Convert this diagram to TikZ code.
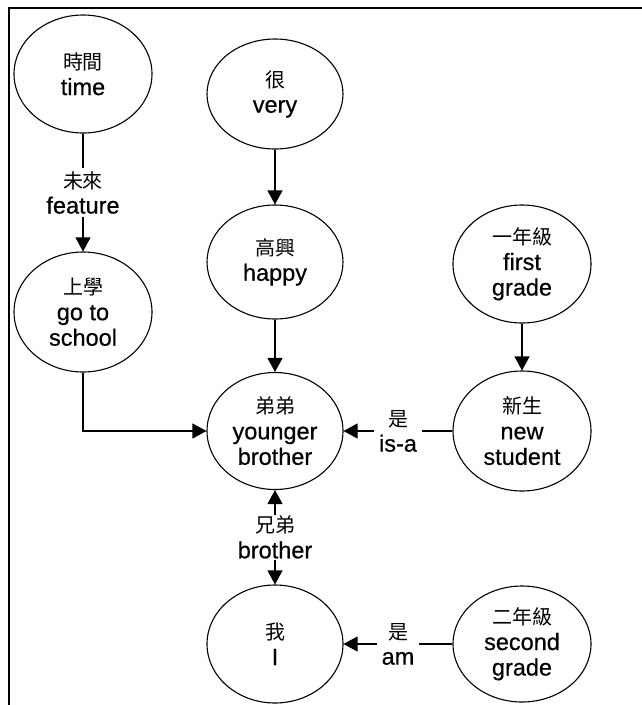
\documentclass[tikz,border=0pt]{standalone}
\usepackage{fontspec}
\setmainfont{Liberation Sans}[FakeBold=0.5]
\newfontfamily\cjk{Noto Sans CJK TC}
\usetikzlibrary{shapes.geometric,arrows.meta}
\newcommand{\zh}[1]{{\cjk\fontsize{20}{25.5}\selectfont #1}}
\tikzset{
  concept/.style={ellipse, draw, line width=1.1pt, inner sep=0pt,
    minimum width=138pt, minimum height=118pt, align=center,
    font=\fontsize{23.5}{25.5}\selectfont},
  arr/.style={line width=1.1pt, -{Triangle[length=14pt,width=15pt]}},
  biarr/.style={line width=1.1pt, {Triangle[length=14pt,width=15pt]}-{Triangle[length=14pt,width=15pt]}},
  lbl/.style={fill=white, inner sep=3pt, align=center,
    font=\fontsize{23.5}{25.5}\selectfont},
  frame/.style={line width=2pt}
}
\begin{document}
\begin{tikzpicture}[x=1pt, y=-1pt]
  \useasboundingbox (0,0) rectangle (642,705);
  % open frame: top and left edges only
  \coordinate (ftl) at (9,8);
  \coordinate (ftr) at (642,8);
  \coordinate (fbl) at (9,705);
  \draw[frame] (ftr) -- (ftl) -- (fbl);

  % concepts
  \node[concept] (time)    at (83,74)   {\zh{時間}\\time};
  \node[concept, minimum height=120pt] (school)  at (83,312)  {\zh{上學}\\go to\\school};
  \node[concept, minimum width=136pt, minimum height=110pt] (very) at (275,94) {\zh{很}\\very};
  \node[concept, minimum width=136pt, minimum height=114pt] (happy) at (275,262) {\zh{高興}\\happy};
  \node[concept] (first)   at (522,264) {\zh{一年級}\\first\\grade};
  \node[concept, minimum width=136pt, minimum height=117pt] (younger) at (275,431) {\zh{弟弟}\\younger\\brother};
  \node[concept, minimum height=120pt] (newst) at (522,431) {\zh{新生}\\new\\student};
  \node[concept, minimum width=136pt] (me) at (275,644) {\zh{我}\\I};
  \node[concept, minimum height=116pt] (second) at (522,644) {\zh{二年級}\\second\\grade};

  % relations
  \draw[arr] (time) -- node[lbl] {\zh{未來}\\feature} (school);
  \draw[arr] (very) -- (happy);
  \draw[arr] (happy) -- (younger);
  \draw[arr] (school.south) |- (younger.west);
  \draw[arr] (first) -- (newst);
  \draw[arr] (newst.west) -- node[lbl, inner sep=5pt] {\zh{是}\\is-a} (younger.east);
  \draw[biarr] (younger) -- node[lbl, inner sep=1pt] {\zh{兄弟}\\brother} (me);
  \draw[arr] (second.west) -- node[lbl, inner sep=5pt] {\zh{是}\\am} (me.east);
\end{tikzpicture}
\end{document}
